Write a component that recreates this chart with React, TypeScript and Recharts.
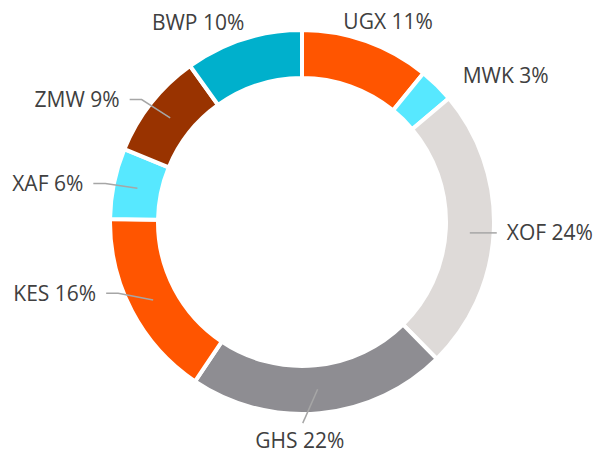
import React from 'react';
import { PieChart, Pie, Cell } from 'recharts';

const categories = ['UGX', 'MWK', 'XOF', 'GHS', 'KES', 'XAF', 'ZMW', 'BWP'];
const shares = [11, 3, 24, 22, 16, 6, 9, 10];
const colors = ['#FF5500', '#57E8FF', '#DEDAD8', '#8E8D92', '#FF5500', '#57E8FF', '#993300', '#00B0CC'];

// label placement tweaks (Excel spreads its labels a bit)
const labelNudge: Record<string, [number, number]> = {
  UGX: [15, -1],
  MWK: [12, 5],
  XOF: [-7, 1],
  GHS: [-22, 7],
  KES: [-18, -27],
  XAF: [-11, 4],
  ZMW: [-16, 9],
  BWP: [-39, 2],
};
const withLeader = ['XOF', 'GHS', 'KES', 'XAF', 'ZMW'];

const RADIAN = Math.PI / 180;

const renderLabel = (props: any) => {
  const { cx, cy, midAngle, name, value } = props;
  const a = -midAngle * RADIAN;
  const px = cx + 168 * Math.cos(a);
  const py = cy + 168 * Math.sin(a);
  const gx = cx + 212 * Math.cos(a);
  const gy = cy + 212 * Math.sin(a);
  const [dx, dy] = labelNudge[name] || [0, 0];
  const tx = gx + dx;
  const ty = gy + dy;
  const anchor = gx > cx + 80 ? 'start' : gx < cx - 80 ? 'end' : 'middle';

  let line = null;
  if (withLeader.includes(name)) {
    let pts: number[][];
    if (anchor === 'middle') {
      pts = [[px, py], [tx + 3, ty - 17]];
    } else {
      const sign = anchor === 'start' ? 1 : -1;
      const ex = tx - 10 * sign;
      if (Math.abs(py - ty) > 4) {
        pts = [[px, py], [ex - 12 * sign, ty], [ex, ty]];
      } else {
        pts = [[px, ty], [ex, ty]];
      }
    }
    line = (
      <polyline
        points={pts.map((p) => p.join(',')).join(' ')}
        fill="none"
        stroke="#A6A6A6"
        strokeWidth={1.5}
      />
    );
  }

  return (
    <g>
      {line}
      <text
        x={tx}
        y={ty + 7.5}
        textAnchor={anchor}
        fill="#404040"
        fontSize={21}
        fontFamily="'Open Sans', sans-serif"
      >
        {`${name} ${value}%`}
      </text>
    </g>
  );
};

export default function App() {
  const data = categories.map((name, i) => ({ name, value: shares[i] }));

  return (
    <div style={{ position: 'absolute', left: 0, top: 0, background: '#fff' }}>
      <PieChart width={596} height={455} margin={{ top: 0, right: 0, bottom: 0, left: 0 }}>
        <Pie
          data={data}
          dataKey="value"
          nameKey="name"
          cx={302}
          cy={222}
          innerRadius={144}
          outerRadius={192}
          startAngle={90}
          endAngle={-270}
          stroke="#ffffff"
          strokeWidth={4}
          label={renderLabel}
          labelLine={false}
          isAnimationActive={false}
        >
          {data.map((d, i) => (
            <Cell key={d.name} fill={colors[i]} />
          ))}
        </Pie>
      </PieChart>
    </div>
  );
}
